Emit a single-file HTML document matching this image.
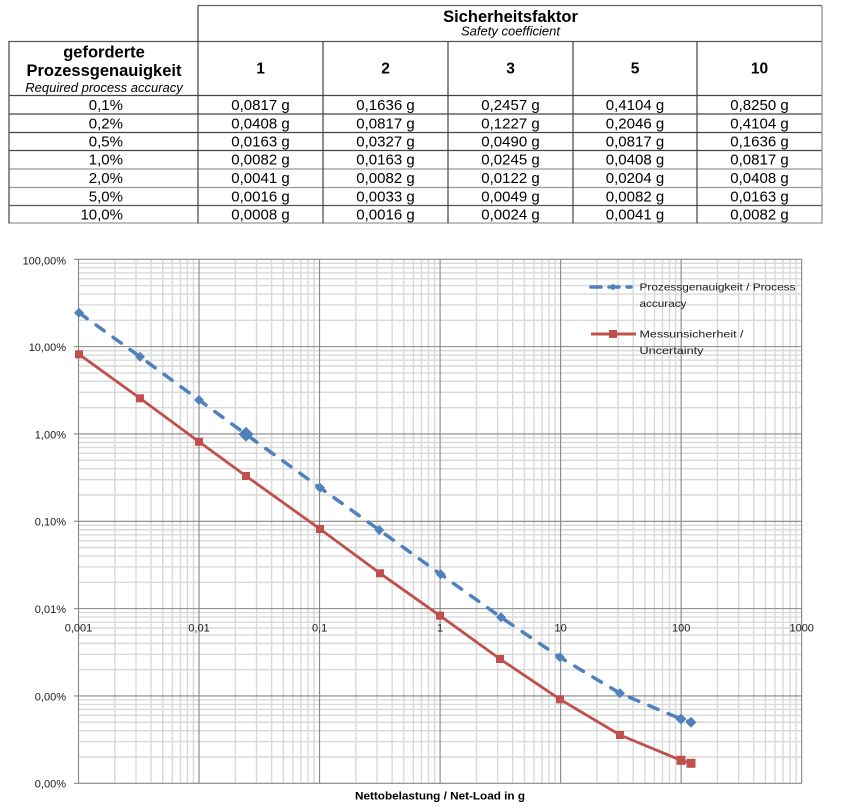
<!DOCTYPE html>
<html><head><meta charset="utf-8"><style>
html,body{margin:0;padding:0;background:#fff;}
svg{display:block;}
text{font-family:"Liberation Sans",Arial,sans-serif;}
</style></head><body>
<svg width="849" height="812" viewBox="0 0 849 812" xmlns="http://www.w3.org/2000/svg">
<rect width="849" height="812" fill="#fff"/>
<!-- TABLE -->
<g stroke-width="1.2" fill="none">
<path d="M198 5.5H822" stroke="#666"/>
<path d="M9 41.5H822" stroke="#555"/>
<path d="M9 95.5H822" stroke="#444"/>
<path d="M9 114H822" stroke="#444"/>
<path d="M9 132.5H822" stroke="#444"/>
<path d="M9 150.5H822" stroke="#444"/>
<path d="M9 169H822" stroke="#999"/>
<path d="M9 187.5H822" stroke="#999"/>
<path d="M9 205.5H822" stroke="#555"/>
<path d="M9 223H822" stroke="#999"/>
<path d="M9 41V223.5" stroke="#444"/>
<path d="M198 5V223.5" stroke="#444"/>
<path d="M323 41V223.5" stroke="#444"/>
<path d="M448 41V223.5" stroke="#444"/>
<path d="M573 41V223.5" stroke="#444"/>
<path d="M697 41V223.5" stroke="#444"/>
<path d="M822 5V223.5" stroke="#888"/>
</g>
<g fill="#000">
<text x="510.5" y="22" font-size="16.5" font-weight="bold" text-anchor="middle">Sicherheitsfaktor</text>
<text x="510.5" y="35.5" font-size="13" font-style="italic" text-anchor="middle">Safety coefficient</text>
<text x="104" y="57.5" font-size="16.5" font-weight="bold" text-anchor="middle">geforderte</text>
<text x="104" y="76" font-size="16.5" font-weight="bold" text-anchor="middle">Prozessgenauigkeit</text>
<text x="104" y="92" font-size="13" font-style="italic" text-anchor="middle">Required process accuracy</text>
<g font-size="15.5" font-weight="bold" text-anchor="middle">
<text x="260.5" y="73.5">1</text>
<text x="385.5" y="73.5">2</text>
<text x="510.5" y="73.5">3</text>
<text x="635" y="73.5">5</text>
<text x="759.5" y="73.5">10</text>
</g>
<g font-size="15" text-anchor="end">
<text x="123" y="110">0,1%</text>
<text x="123" y="128.3">0,2%</text>
<text x="123" y="146.6">0,5%</text>
<text x="123" y="164.7">1,0%</text>
<text x="123" y="183">2,0%</text>
<text x="123" y="201.5">5,0%</text>
<text x="123" y="219.5">10,0%</text>
</g>
<g font-size="15" text-anchor="middle">
<text x="260.5" y="110">0,0817 g</text><text x="385.5" y="110">0,1636 g</text><text x="510.5" y="110">0,2457 g</text><text x="635" y="110">0,4104 g</text><text x="759.5" y="110">0,8250 g</text>
<text x="260.5" y="128.3">0,0408 g</text><text x="385.5" y="128.3">0,0817 g</text><text x="510.5" y="128.3">0,1227 g</text><text x="635" y="128.3">0,2046 g</text><text x="759.5" y="128.3">0,4104 g</text>
<text x="260.5" y="146.6">0,0163 g</text><text x="385.5" y="146.6">0,0327 g</text><text x="510.5" y="146.6">0,0490 g</text><text x="635" y="146.6">0,0817 g</text><text x="759.5" y="146.6">0,1636 g</text>
<text x="260.5" y="164.7">0,0082 g</text><text x="385.5" y="164.7">0,0163 g</text><text x="510.5" y="164.7">0,0245 g</text><text x="635" y="164.7">0,0408 g</text><text x="759.5" y="164.7">0,0817 g</text>
<text x="260.5" y="183">0,0041 g</text><text x="385.5" y="183">0,0082 g</text><text x="510.5" y="183">0,0122 g</text><text x="635" y="183">0,0204 g</text><text x="759.5" y="183">0,0408 g</text>
<text x="260.5" y="201.5">0,0016 g</text><text x="385.5" y="201.5">0,0033 g</text><text x="510.5" y="201.5">0,0049 g</text><text x="635" y="201.5">0,0082 g</text><text x="759.5" y="201.5">0,0163 g</text>
<text x="260.5" y="219.5">0,0008 g</text><text x="385.5" y="219.5">0,0016 g</text><text x="510.5" y="219.5">0,0024 g</text><text x="635" y="219.5">0,0041 g</text><text x="759.5" y="219.5">0,0082 g</text>
</g>
</g>

<!-- CHART GRID -->
<defs>
<path id="vd" d="M36.28 259.3V783.3M57.51 259.3V783.3M72.57 259.3V783.3M84.25 259.3V783.3M93.79 259.3V783.3M101.86 259.3V783.3M108.85 259.3V783.3M115.01 259.3V783.3"/>
<path id="hd" d="M78.5 3.99H801.7M78.5 8.47H801.7M78.5 13.53H801.7M78.5 19.37H801.7M78.5 26.29H801.7M78.5 34.75H801.7M78.5 45.66H801.7M78.5 61.04H801.7"/>
</defs>
<g stroke="#d9d9d9" stroke-width="1.4" fill="none">
<use href="#vd" transform="translate(78.5,0)"/>
<use href="#vd" transform="translate(199.03,0)"/>
<use href="#vd" transform="translate(319.56,0)"/>
<use href="#vd" transform="translate(440.09,0)"/>
<use href="#vd" transform="translate(560.62,0)"/>
<use href="#vd" transform="translate(681.15,0)"/>
<use href="#hd" transform="translate(0,259.3)"/>
<use href="#hd" transform="translate(0,346.63)"/>
<use href="#hd" transform="translate(0,433.96)"/>
<use href="#hd" transform="translate(0,521.29)"/>
<use href="#hd" transform="translate(0,608.62)"/>
<use href="#hd" transform="translate(0,695.95)"/>
</g>
<g stroke="#868686" stroke-width="1.1" fill="none">
<path d="M74 259.3H801.7M74 346.63H801.7M74 433.96H801.7M74 521.29H801.7M74 608.62H801.7M74 695.95H801.7M74 783.28H801.7"/>
<path d="M78.5 259.3V783.3M199.03 259.3V783.3M319.56 259.3V783.3M440.09 259.3V783.3M560.62 259.3V783.3M681.15 259.3V783.3M801.68 259.3V783.3"/>
</g>

<!-- AXIS LABELS -->
<g font-size="11" fill="#1a1a1a" text-anchor="end">
<text x="66" y="264.5">100,00%</text>
<text x="66" y="351">10,00%</text>
<text x="66" y="438.3">1,00%</text>
<text x="66" y="525.6">0,10%</text>
<text x="66" y="613">0,01%</text>
<text x="66" y="700.3">0,00%</text>
<text x="66" y="787.6">0,00%</text>
</g>
<g font-size="11" fill="#1a1a1a" text-anchor="middle">
<text x="78.5" y="631.3">0,001</text>
<text x="199" y="631.3">0,01</text>
<text x="319.6" y="631.3">0,1</text>
<text x="440.1" y="631.3">1</text>
<text x="560.6" y="631.3">10</text>
<text x="681.2" y="631.3">100</text>
<text x="801.7" y="631.3">1000</text>
</g>
<text x="355" y="799.3" font-size="11" font-weight="bold" fill="#000" textLength="170" lengthAdjust="spacingAndGlyphs">Nettobelastung / Net-Load in g</text>

<!-- SERIES -->
<polyline fill="none" stroke="#C0504D" stroke-width="2.8" stroke-linejoin="round" points="79,354.3 140,398.3 199,441.7 246,476 320,529 380,573.3 440,615.7 500,659 560,699.3 620,735 681,760.3 691,763.3"/>
<polyline fill="none" stroke="#4F81BD" stroke-width="3.5" stroke-linecap="round" stroke-dasharray="10 11" points="79,312.7 140,356.7 199,400 246,434.3 320,487.7 379.3,530 440.7,574.3 501,617.3 560,657.3 620,693.3 681,719 691,722.3"/>
<g fill="#C0504D">
<rect x="75" y="350.3" width="8" height="8"/>
<rect x="136" y="394.3" width="8" height="8"/>
<rect x="195" y="437.7" width="8" height="8"/>
<rect x="242" y="472" width="8" height="8"/>
<rect x="316" y="525" width="8" height="8"/>
<rect x="376" y="569.3" width="8" height="8"/>
<rect x="436" y="611.7" width="8" height="8"/>
<rect x="496" y="655" width="8" height="8"/>
<rect x="556" y="695.3" width="8" height="8"/>
<rect x="616" y="731" width="8" height="8"/>
<rect x="676.5" y="755.8" width="9" height="9"/>
<rect x="686.5" y="758.8" width="9" height="9"/>
</g>
<g fill="#4F81BD">
<path d="M79 307.7l5 5-5 5-5-5z"/>
<path d="M140 351.7l5 5-5 5-5-5z"/>
<path d="M199 395l5 5-5 5-5-5z"/>
<path d="M246 426.8l7.5 7.5-7.5 7.5-7.5-7.5z"/>
<path d="M320 482.7l5 5-5 5-5-5z"/>
<path d="M379.3 525l5 5-5 5-5-5z"/>
<path d="M440.7 569.3l5 5-5 5-5-5z"/>
<path d="M501 612.3l5 5-5 5-5-5z"/>
<path d="M560 652.3l5 5-5 5-5-5z"/>
<path d="M620 688.3l5 5-5 5-5-5z"/>
<path d="M681 713.5l5.5 5.5-5.5 5.5-5.5-5.5z"/>
<path d="M691 716.8l5.5 5.5-5.5 5.5-5.5-5.5z"/>
</g>

<!-- LEGEND -->
<path d="M591 287H631" stroke="#4F81BD" stroke-width="3.5" stroke-linecap="round" stroke-dasharray="10 8"/>
<path d="M613 283.5l3.5 3.5-3.5 3.5-3.5-3.5z" fill="#4F81BD"/>
<path d="M591 334H636" stroke="#C0504D" stroke-width="3"/>
<rect x="609" y="330" width="8" height="8" fill="#C0504D"/>
<g font-size="10.5" fill="#1a1a1a">
<text x="639.5" y="290.5" textLength="156" lengthAdjust="spacingAndGlyphs">Prozessgenauigkeit / Process</text>
<text x="639.5" y="307" textLength="47" lengthAdjust="spacingAndGlyphs">accuracy</text>
<text x="639.5" y="337.5" textLength="104" lengthAdjust="spacingAndGlyphs">Messunsicherheit /</text>
<text x="639.5" y="354" textLength="64" lengthAdjust="spacingAndGlyphs">Uncertainty</text>
</g>
</svg>
</body></html>
